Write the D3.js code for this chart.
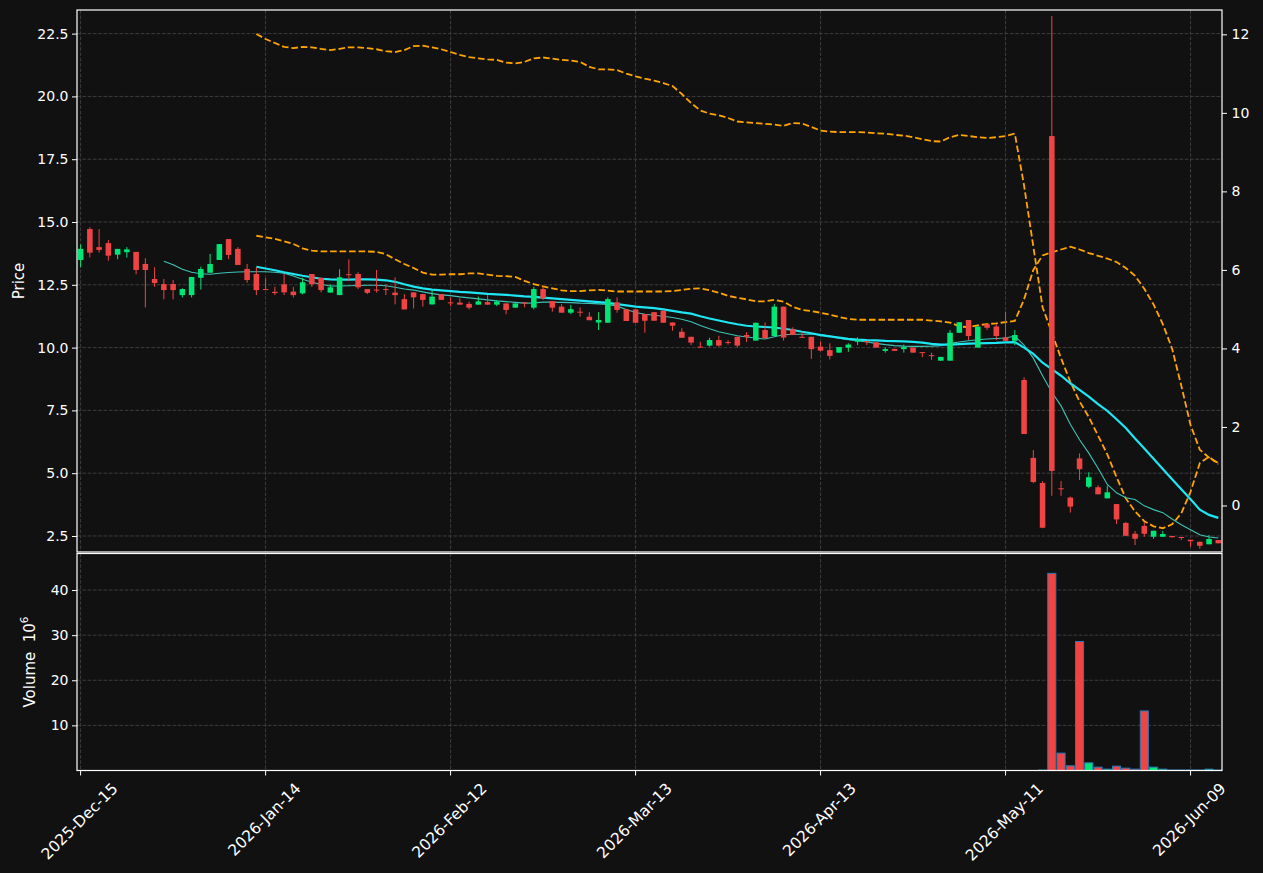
<!DOCTYPE html>
<html><head><meta charset="utf-8">
<script src="https://cdn.jsdelivr.net/npm/d3@7"></script>
<style>
body{margin:0;background:#111111;}
svg text{font-family:"DejaVu Sans",sans-serif;}
</style>
</head><body>
<svg id="c" width="1263" height="873"></svg>
<script>
// ---------------- DATA ----------------
const dates = [
"2025-12-15","2025-12-16","2025-12-17","2025-12-18","2025-12-19","2025-12-22","2025-12-23","2025-12-24","2025-12-26","2025-12-29","2025-12-30","2025-12-31",
"2026-01-02","2026-01-05","2026-01-06","2026-01-07","2026-01-08","2026-01-09","2026-01-12","2026-01-13","2026-01-14","2026-01-15","2026-01-16","2026-01-20","2026-01-21","2026-01-22","2026-01-23","2026-01-26","2026-01-27","2026-01-28","2026-01-29","2026-01-30",
"2026-02-02","2026-02-03","2026-02-04","2026-02-05","2026-02-06","2026-02-09","2026-02-10","2026-02-11","2026-02-12","2026-02-13","2026-02-17","2026-02-18","2026-02-19","2026-02-20","2026-02-23","2026-02-24","2026-02-25","2026-02-26","2026-02-27",
"2026-03-02","2026-03-03","2026-03-04","2026-03-05","2026-03-06","2026-03-09","2026-03-10","2026-03-11","2026-03-12","2026-03-13","2026-03-16","2026-03-17","2026-03-18","2026-03-19","2026-03-20","2026-03-23","2026-03-24","2026-03-25","2026-03-26","2026-03-27","2026-03-30","2026-03-31",
"2026-04-01","2026-04-02","2026-04-06","2026-04-07","2026-04-08","2026-04-09","2026-04-10","2026-04-13","2026-04-14","2026-04-15","2026-04-16","2026-04-17","2026-04-20","2026-04-21","2026-04-22","2026-04-23","2026-04-24","2026-04-27","2026-04-28","2026-04-29","2026-04-30",
"2026-05-01","2026-05-04","2026-05-05","2026-05-06","2026-05-07","2026-05-08","2026-05-11","2026-05-12","2026-05-13","2026-05-14","2026-05-15","2026-05-18","2026-05-19","2026-05-20","2026-05-21","2026-05-22","2026-05-26","2026-05-27","2026-05-28","2026-05-29",
"2026-06-01","2026-06-02","2026-06-03","2026-06-04","2026-06-05","2026-06-08","2026-06-09","2026-06-10","2026-06-11","2026-06-12"
];

const open = [13.49,14.72,14.00,14.16,13.70,13.80,13.81,13.33,12.73,12.53, 12.53,12.09,12.09,12.78,12.98,13.49,14.32,13.93,13.13,12.93,
 12.33,12.22,12.52,12.23,12.16,12.93,12.78,12.19,12.09,12.92, 12.93,12.33,12.31,12.33,12.19,11.93,12.20,12.13,11.72,12.13,
 11.80,11.79,11.74,11.71,11.81,11.71,11.76,11.59,11.80,11.59, 12.33,11.85,11.63,11.39,11.43,11.23,11.00,10.99,11.80,11.52,
 11.52,11.34,11.41,11.47,11.00,10.63,10.43,10.04,10.08,10.30, 10.22,10.43,10.50,10.28,10.70,10.46,11.63,10.73,10.43,10.43,
 10.04,9.90,9.80,10.00,10.23,10.26,10.21,9.87,9.95,9.94, 10.00,9.82,9.70,9.48,9.48,10.59,11.10,10.00,10.93,10.84,
 10.41,10.27,8.71,5.61,4.61,18.42,4.40,4.03,5.59,4.46, 4.44,4.00,3.77,3.02,2.59,2.90,2.47,2.47,2.50,2.46,
 2.35,2.27,2.17,2.34];
const high = [14.11,14.79,14.72,14.28,13.93,14.00,13.81,13.56,13.20,12.73, 12.69,12.36,12.81,13.22,13.73,14.12,14.32,14.00,13.33,13.20,
 12.76,12.42,12.93,12.42,12.78,12.93,12.78,12.52,13.12,13.51, 13.00,12.33,13.09,12.52,12.80,12.12,12.20,12.13,12.29,12.13,
 12.00,11.96,11.83,12.03,12.09,11.90,11.76,11.76,11.80,12.42, 12.42,11.85,11.73,11.70,11.60,11.41,11.41,12.00,12.00,11.52,
 11.52,11.34,11.41,11.47,11.00,10.77,10.43,10.23,10.39,10.47, 10.30,10.43,10.61,10.99,11.00,11.74,11.63,10.81,10.63,10.43,
 10.23,10.17,10.02,10.17,10.41,10.27,10.21,10.01,9.95,10.12, 10.00,9.82,9.80,9.63,10.70,11.01,11.10,10.84,10.93,10.93,
 11.43,10.70,8.82,5.92,4.68,23.20,4.69,4.07,5.79,5.04, 4.52,4.50,3.77,3.06,2.70,3.06,2.71,2.70,2.50,2.46,
 2.35,2.27,2.54,2.34];
const low = [13.20,13.59,13.78,13.46,13.52,13.58,12.92,11.60,12.42,11.92, 11.92,12.00,12.00,12.31,12.98,13.49,13.52,13.29,12.58,12.09,
 12.29,12.09,12.09,12.00,12.12,12.42,12.20,12.19,12.09,12.65, 12.33,12.13,12.19,12.09,11.72,11.52,11.56,11.63,11.72,11.90,
 11.65,11.71,11.52,11.71,11.71,11.65,11.33,11.59,11.60,11.52, 11.90,11.43,11.39,11.33,11.23,11.09,10.70,10.99,11.39,11.06,
 10.99,10.59,11.07,10.99,10.67,10.39,10.10,10.00,10.04,10.04, 10.12,10.01,10.22,10.28,10.37,10.46,10.28,10.50,10.39,9.55,
 9.85,9.53,9.80,9.83,10.10,10.10,10.00,9.80,9.87,9.80, 9.80,9.62,9.51,9.48,9.48,10.59,10.30,10.00,10.70,10.30,
 10.27,10.10,6.56,4.60,2.81,4.10,4.10,3.43,4.73,4.40, 4.16,4.00,2.98,2.51,2.14,2.47,2.39,2.47,2.44,2.34,
 2.07,1.99,2.17,2.21];
const close = [13.93,13.78,13.89,13.66,13.93,13.91,13.09,13.09,12.57,12.29, 12.29,12.33,12.81,13.13,13.33,14.12,13.69,13.29,12.69,12.29,
 12.30,12.17,12.20,12.09,12.60,12.52,12.29,12.40,12.80,12.90, 12.40,12.18,12.29,12.30,12.09,11.52,12.00,11.90,12.03,11.90,
 11.76,11.71,11.59,11.84,11.71,11.83,11.50,11.76,11.76,12.33, 11.96,11.59,11.39,11.53,11.42,11.09,11.10,11.93,11.50,11.06,
 10.99,11.07,11.07,10.99,10.87,10.39,10.20,10.03,10.30,10.08, 10.20,10.08,10.43,10.99,10.37,11.63,10.40,10.50,10.41,9.94,
 9.88,9.67,10.02,10.12,10.30,10.24,10.00,9.94,9.87,10.02, 9.80,9.80,9.68,9.63,10.59,11.01,10.46,10.84,10.79,10.46,
 10.27,10.50,6.56,4.65,2.83,5.09,4.38,3.67,5.16,4.84, 4.16,4.24,3.16,2.51,2.39,2.59,2.71,2.58,2.45,2.43,
 2.29,2.11,2.38,2.21];

// volume in millions (no volume drawn before index 104)
const volume = [
 null,null,null,null,null,null,null,null,null,null, null,null,null,null,null,null,null,null,null,null,
 null,null,null,null,null,null,null,null,null,null, null,null,null,null,null,null,null,null,null,null,
 null,null,null,null,null,null,null,null,null,null, null,null,null,null,null,null,null,null,null,null,
 null,null,null,null,null,null,null,null,null,null, null,null,null,null,null,null,null,null,null,null,
 null,null,null,null,null,null,null,null,null,null, null,null,null,null,null,null,null,null,null,null,
 null,null,null,null,0.1,43.7,3.85,1.04,28.6,1.7, 0.74,0.3,0.96,0.52,0.3,13.2,0.74,0.3,0.1,0.1,
 0.1,0.1,0.3,0.1];

// moving averages (left axis)
const ma10Start = 9;
const ma10 = [13.44,13.30,13.12,13.00,12.94,12.92,12.96,12.99,13.01,13.02,
 13.02,13.02,13.00,12.96,12.85,12.72,12.60,12.52,12.45,12.45,
 12.46,12.47,12.48,12.48,12.46,12.40,12.33,12.29,12.22,12.15,
 12.10,12.07,12.02,11.98,11.94,11.90,11.86,11.83,11.80,11.77,
 11.78,11.81,11.81,11.80,11.79,11.77,11.76,11.74,11.72,11.65,
 11.52,11.40,11.33,11.29,11.25,11.20,11.13,11.03,10.88,10.75,
 10.63,10.55,10.47,10.42,10.38,10.34,10.43,10.51,10.53,10.53,
 10.53,10.52,10.46,10.37,10.31,10.27,10.22,10.17,10.12,10.08,
 10.06,10.05,10.05,10.06,10.08,10.17,10.22,10.27,10.31,10.34,
 10.36,10.38,10.46,10.10,9.58,8.88,8.22,7.68,6.95,6.33,
 5.80,5.20,4.55,4.22,4.02,3.95,3.70,3.55,3.43,3.18,
 2.95,2.75,2.55,2.46,2.42];
const ma20Start = 19;
const ma20 = [13.22,13.15,13.08,13.00,12.93,12.86,12.80,12.74,12.72,12.71,
 12.71,12.72,12.72,12.71,12.68,12.62,12.52,12.43,12.36,12.31,
 12.28,12.25,12.22,12.20,12.17,12.14,12.12,12.10,12.07,12.04,
 12.02,11.99,11.96,11.93,11.90,11.87,11.84,11.81,11.78,11.73,
 11.68,11.63,11.60,11.57,11.52,11.46,11.40,11.35,11.25,11.16,
 11.08,11.00,10.93,10.87,10.84,10.82,10.80,10.75,10.70,10.63,
 10.57,10.50,10.45,10.40,10.35,10.32,10.30,10.29,10.27,10.26,
 10.25,10.23,10.20,10.15,10.12,10.12,10.14,10.16,10.17,10.18,
 10.19,10.21,10.22,10.00,9.75,9.40,9.14,8.88,8.58,8.32,
 8.05,7.75,7.48,7.15,6.80,6.38,5.98,5.58,5.17,4.76,
 4.36,3.96,3.55,3.34,3.22];

// dashed bands (right axis)
const bandStart = 19;
const bandUpper = [12.01,11.88,11.78,11.68,11.65,11.68,11.67,11.63,11.60,11.63,
 11.67,11.67,11.65,11.62,11.57,11.55,11.60,11.70,11.71,11.67,
 11.62,11.55,11.48,11.42,11.39,11.36,11.35,11.28,11.26,11.30,
 11.39,11.41,11.38,11.35,11.33,11.30,11.17,11.11,11.11,11.09,
 11.00,10.93,10.87,10.82,10.76,10.68,10.48,10.25,10.06,9.98,
 9.94,9.87,9.78,9.76,9.74,9.72,9.70,9.67,9.74,9.73,
 9.64,9.55,9.52,9.51,9.51,9.51,9.50,9.48,9.47,9.44,
 9.42,9.38,9.33,9.28,9.27,9.38,9.44,9.41,9.38,9.36,
 9.38,9.41,9.47,8.15,6.60,5.05,4.40,3.75,3.15,2.65,
 2.25,1.78,1.30,0.72,0.18,-0.15,-0.40,-0.53,-0.58,-0.48,
 -0.20,0.35,1.08,1.24,1.05];
const bandLower = [6.87,6.83,6.79,6.73,6.66,6.55,6.49,6.47,6.47,6.47,
 6.47,6.47,6.47,6.46,6.40,6.27,6.15,6.05,5.93,5.88,
 5.88,5.89,5.89,5.91,5.91,5.88,5.85,5.84,5.82,5.72,
 5.64,5.58,5.53,5.48,5.46,5.46,5.48,5.49,5.47,5.45,
 5.45,5.45,5.45,5.45,5.45,5.46,5.49,5.52,5.53,5.48,
 5.42,5.34,5.29,5.25,5.20,5.20,5.24,5.19,5.06,4.98,
 4.95,4.91,4.86,4.80,4.75,4.73,4.73,4.73,4.73,4.73,
 4.73,4.73,4.73,4.71,4.69,4.66,4.56,4.54,4.59,4.62,
 4.64,4.67,4.70,5.25,6.00,6.37,6.45,6.52,6.59,6.52,
 6.43,6.36,6.29,6.20,6.05,5.85,5.52,5.12,4.62,4.00,
 3.05,2.05,1.42,1.22,1.08];

// ticks
const priceTicks = [2.5,5.0,7.5,10.0,12.5,15.0,17.5,20.0,22.5];
const rightTicks = [0,2,4,6,8,10,12];
const volTicks = [10,20,30,40];
const xTickIdx = [0,20,40,60,80,100,120];
const xTickLabels = ["2025-Dec-15","2026-Jan-14","2026-Feb-12","2026-Mar-13","2026-Apr-13","2026-May-11","2026-Jun-09"];

// ---------------- DRAW ----------------
const W = 1263, H = 873;
const L = 77, R = 1222, T1 = 10, B1 = 552, T2 = 553.5, B2 = 770.5;
const UP = '#00e676', DOWN = '#f04444';
const FG = '#ffffff', GRID = '#3d3d3d';

const svg = d3.select('#c');
svg.append('rect').attr('width', W).attr('height', H).attr('fill', '#111111');

const x = d3.scaleLinear().domain([-0.39, 123.4]).range([L, R]);
const yP = d3.scaleLinear().domain([1.863, 23.44]).range([B1, T1]);
const yR = d3.scaleLinear().domain([-1.185, 12.62]).range([B1, T1]);
const yV = d3.scaleLinear().domain([0, 48.1]).range([B2, T2]);
const step = x(1) - x(0);

const defs = svg.append('defs');
defs.append('clipPath').attr('id', 'clipMain').append('rect')
  .attr('x', L).attr('y', T1).attr('width', R - L).attr('height', B1 - T1);
defs.append('clipPath').attr('id', 'clipVol').append('rect')
  .attr('x', L).attr('y', T2).attr('width', R - L).attr('height', B2 - T2);

// grid
const grid = svg.append('g').attr('stroke', GRID).attr('stroke-width', 1)
  .attr('stroke-dasharray', '3.7,1.6').attr('fill', 'none');
xTickIdx.forEach(i => {
  grid.append('line').attr('x1', x(i)).attr('x2', x(i)).attr('y1', T1).attr('y2', B1);
  grid.append('line').attr('x1', x(i)).attr('x2', x(i)).attr('y1', T2).attr('y2', B2);
});
priceTicks.forEach(v => grid.append('line').attr('x1', L).attr('x2', R).attr('y1', yP(v)).attr('y2', yP(v)));
volTicks.forEach(v => grid.append('line').attr('x1', L).attr('x2', R).attr('y1', yV(v)).attr('y2', yV(v)));

// lines
const main = svg.append('g').attr('clip-path', 'url(#clipMain)');
function series(arr, start) {
  return arr.map((v, k) => ({i: k + start, v}));
}
const lineP = d3.line().x(d => x(d.i)).y(d => yP(d.v));
const lineR = d3.line().x(d => x(d.i)).y(d => yR(d.v));

main.append('path').datum(series(bandUpper, bandStart)).attr('d', lineR)
  .attr('fill', 'none').attr('stroke', '#ffa500').attr('stroke-width', 1.8).attr('stroke-dasharray', '6.6,2.9');
main.append('path').datum(series(bandLower, bandStart)).attr('d', lineR)
  .attr('fill', 'none').attr('stroke', '#ffa500').attr('stroke-width', 1.8).attr('stroke-dasharray', '6.6,2.9');
main.append('path').datum(series(ma10, ma10Start)).attr('d', lineP)
  .attr('fill', 'none').attr('stroke', '#3fc3b6').attr('stroke-width', 1.1);
main.append('path').datum(series(ma20, ma20Start)).attr('d', lineP)
  .attr('fill', 'none').attr('stroke', '#1ee6f2').attr('stroke-width', 2.2);

// candles
const idx = d3.range(dates.length);
const bodyW = step * 0.6;
const cg = main.append('g');
cg.selectAll('line.wick').data(idx).join('line')
  .attr('x1', i => x(i)).attr('x2', i => x(i))
  .attr('y1', i => yP(high[i])).attr('y2', i => yP(low[i]))
  .attr('stroke', i => close[i] >= open[i] ? UP : DOWN).attr('stroke-width', 1);
cg.selectAll('rect.body').data(idx).join('rect')
  .attr('x', i => x(i) - bodyW / 2).attr('width', bodyW)
  .attr('y', i => yP(Math.max(open[i], close[i])))
  .attr('height', i => Math.max(1, Math.abs(yP(open[i]) - yP(close[i]))))
  .attr('fill', i => close[i] >= open[i] ? UP : DOWN);

// volume bars
const vg = svg.append('g').attr('clip-path', 'url(#clipVol)');
const volW = step * 0.875;
vg.selectAll('rect').data(idx.filter(i => volume[i] != null)).join('rect')
  .attr('x', i => x(i) - volW / 2).attr('width', volW)
  .attr('y', i => yV(volume[i])).attr('height', i => yV(0) - yV(volume[i]))
  .attr('fill', i => close[i] >= open[i] ? UP : DOWN)
  .attr('stroke', '#2a7ab8').attr('stroke-width', 1);

// frames
svg.append('rect').attr('x', L).attr('y', T1).attr('width', R - L).attr('height', B1 - T1)
  .attr('fill', 'none').attr('stroke', FG).attr('stroke-width', 1.2);
svg.append('rect').attr('x', L).attr('y', T2).attr('width', R - L).attr('height', B2 - T2)
  .attr('fill', 'none').attr('stroke', FG).attr('stroke-width', 1.2);

// axes
function styleAxis(g) {
  g.select('.domain').remove();
  g.selectAll('.tick line').attr('stroke', FG).attr('stroke-width', 1);
  g.selectAll('.tick text').attr('fill', FG).attr('font-size', 14)
    .attr('font-family', '"DejaVu Sans", sans-serif');
}
svg.append('g').attr('transform', `translate(${L},0)`)
  .call(d3.axisLeft(yP).tickValues(priceTicks).tickSize(5).tickPadding(3.5).tickFormat(d3.format('.1f')))
  .call(styleAxis);
svg.append('g').attr('transform', `translate(${R},0)`)
  .call(d3.axisRight(yR).tickValues(rightTicks).tickSize(5).tickPadding(4.5).tickFormat(d3.format('d')))
  .call(styleAxis);
svg.append('g').attr('transform', `translate(${L},0)`)
  .call(d3.axisLeft(yV).tickValues(volTicks).tickSize(5).tickPadding(3.5).tickFormat(d3.format('d')))
  .call(styleAxis);

// x ticks + rotated labels
const XFS = 15.5;
const xg = svg.append('g');
xTickIdx.forEach((i, k) => {
  xg.append('line').attr('x1', x(i)).attr('x2', x(i)).attr('y1', B2).attr('y2', B2 + 5)
    .attr('stroke', FG).attr('stroke-width', 1);
  const t = xg.append('text').text(xTickLabels[k]).attr('fill', FG).attr('font-size', XFS)
    .attr('text-anchor', 'middle').attr('dominant-baseline', 'central');
  const len = t.node().getComputedTextLength();
  const bh = (len + XFS * 1.0) / Math.SQRT2;
  t.attr('transform', `translate(${x(i) - 1},${B2 + 10 + bh / 2}) rotate(-45)`);
});

// axis titles
svg.append('text').attr('transform', `translate(${19},${(T1 + B1) / 2}) rotate(-90)`)
  .attr('text-anchor', 'middle').attr('dominant-baseline', 'central')
  .attr('fill', FG).attr('font-size', 15).text('Price');
const vt = svg.append('text').attr('transform', `translate(${30},${(T2 + B2) / 2}) rotate(-90)`)
  .attr('text-anchor', 'middle').attr('dominant-baseline', 'central')
  .attr('fill', FG).attr('font-size', 15).style('white-space', 'pre');
vt.append('tspan').text('Volume\u00a0\u00a010');
vt.append('tspan').attr('font-size', 10.5).attr('dy', -6).text('6');
</script>
</body></html>
